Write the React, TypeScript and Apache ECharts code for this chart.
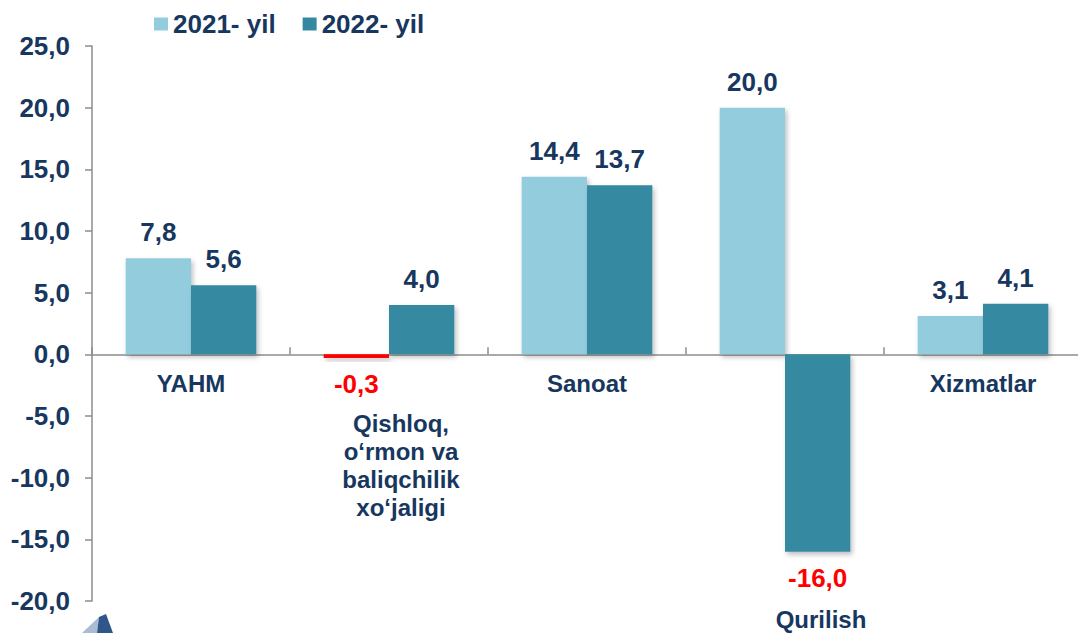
import React, { useEffect, useRef } from "react";
import * as echarts from "echarts";

const categories = ["YAHM", "Qishloq,\no‘rmon va\nbaliqchilik\nxo‘jaligi", "Sanoat", "Qurilish", "Xizmatlar"];
const series2021 = [7.8, -0.3, 14.4, 20.0, 3.1];
const series2022 = [5.6, 4.0, 13.7, -16.0, 4.1];
const seriesNames = ["2021- yil", "2022- yil"];
const yTicks = { min: -20, max: 25, interval: 5 };

const NAVY = "#17375E";
const LIGHT = "#93CDDD";
const DARK = "#3489A1";
const RED = "#FF0000";
const FONT = "'Liberation Sans', Arial, sans-serif";

const fmt = (v: number) => v.toFixed(1).replace(".", ",");

function makeData(vals: number[]) {
  return vals.map((v) => {
    if (v < 0) {
      return {
        value: v,
        label: { position: "bottom", distance: 13, color: RED },
        itemStyle: v > -1 ? { color: RED } : undefined,
      };
    }
    return { value: v };
  });
}

export default function App() {
  const ref = useRef<HTMLDivElement>(null);
  useEffect(() => {
    if (!ref.current) return;
    const chart = echarts.init(ref.current, undefined, { renderer: "svg" });
    // per-category label offsets from the zero line (layout only): dx, dy, vertical align, line height
    const labelOffsets: [number, number, string, number][] = [
      [0, 29, "middle", 24],
      [12, 409 - 354, "top", 28],
      [0, 29, "middle", 24],
      [36, 265, "middle", 22],
      [0, 29, "middle", 24],
    ];
    const labelBase = {
      show: true,
      position: "top",
      distance: 13,
      fontFamily: FONT,
      fontWeight: "bold",
      fontSize: 26,
      color: NAVY,
      formatter: (p: any) => fmt(p.value),
    };
    const shadow = {
      shadowColor: "rgba(0,0,0,0.25)",
      shadowBlur: 5,
      shadowOffsetX: 2,
      shadowOffsetY: 3,
    };
    chart.setOption({
      animation: false,
      textStyle: { fontFamily: FONT },
      legend: {
        data: seriesNames,
        left: 154,
        top: 11,
        padding: 0,
        icon: "rect",
        itemWidth: 14,
        itemHeight: 13,
        itemGap: 27,
        textStyle: { fontFamily: FONT, fontWeight: "bold", fontSize: 26, color: NAVY },
      },
      grid: { left: 92, top: 46, width: 990, height: 555, containLabel: false, outerBoundsMode: "none" },
      xAxis: {
        type: "category",
        data: categories,
        axisLine: { onZero: true, lineStyle: { color: "#8C8C8C", width: 1.5 } },
        axisTick: { show: true, inside: true, length: 7, lineStyle: { color: "#8C8C8C", width: 1.5 } },
        axisLabel: { show: false },
        splitLine: { show: false },
      },
      yAxis: {
        type: "value",
        min: yTicks.min,
        max: yTicks.max,
        interval: yTicks.interval,
        axisLine: { show: true, lineStyle: { color: "#8C8C8C", width: 1.5 } },
        axisTick: { show: true, length: 7, lineStyle: { color: "#8C8C8C", width: 1.5 } },
        splitLine: { show: false },
        axisLabel: {
          margin: 22,
          fontFamily: FONT,
          fontWeight: "bold",
          fontSize: 26,
          color: NAVY,
          formatter: (v: number) => fmt(v),
        },
      },
      graphic: [
        {
          type: "polygon",
          silent: true,
          shape: { points: [[82, 633], [99, 617], [97, 633]] },
          style: { fill: "#A9BCD3" },
        },
        {
          type: "polygon",
          silent: true,
          shape: { points: [[97, 633], [99, 617], [106, 614], [113, 633]] },
          style: { fill: "#2F5688" },
        },
      ],
      series: [
        {
          name: seriesNames[0],
          type: "bar",
          data: makeData(series2021),
          itemStyle: { color: LIGHT, ...shadow },
          label: labelBase,
          barGap: "0%",
          barCategoryGap: "34%",
        },
        {
          name: seriesNames[1],
          type: "bar",
          data: makeData(series2022),
          itemStyle: { color: DARK, ...shadow },
          label: labelBase,
          barGap: "0%",
          barCategoryGap: "34%",
        },
        {
          name: "categoryLabels",
          type: "custom",
          silent: true,
          z: 10,
          data: categories.map((_, i) => [i, 0]),
          renderItem: (params: any, api: any) => {
            const i = params.dataIndex;
            const p = api.coord([api.value(0), 0]);
            const off = labelOffsets[i];
            return {
              type: "text",
              x: p[0] + off[0],
              y: p[1] + off[1],
              style: {
                text: categories[i],
                fill: NAVY,
                font: `bold 24px ${FONT}`,
                align: "center",
                verticalAlign: off[2],
                lineHeight: off[3],
              },
            };
          },
        },
      ],
    });
    return () => chart.dispose();
  }, []);
  return (
    <div
      ref={ref}
      style={{ position: "fixed", left: 0, top: 0, width: 1078, height: 633, background: "#fff" }}
    />
  );
}
